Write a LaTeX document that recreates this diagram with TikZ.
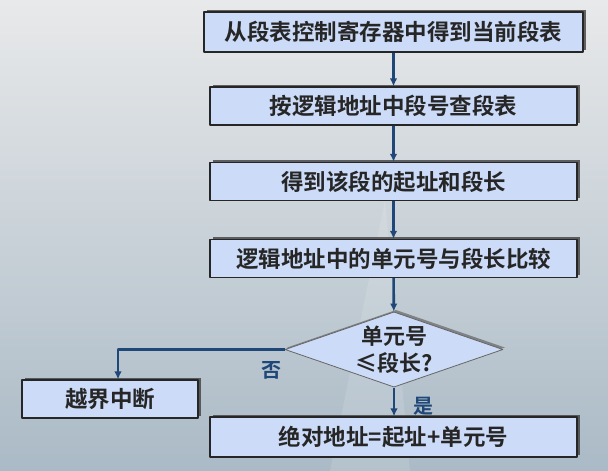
\documentclass[tikz,border=0pt]{standalone}
\usepackage{fontspec}
\setmainfont{Noto Sans CJK SC}[BoldFont={Noto Sans CJK SC Bold}]
\usetikzlibrary{arrows.meta, shadows, shapes.geometric, positioning}
\definecolor{boxblue}{HTML}{CCDBF7}
\definecolor{linkblue}{HTML}{1F4878}
\definecolor{textgray}{HTML}{262626}
\definecolor{bgtop}{HTML}{E8E9EA}
\definecolor{bgbottom}{HTML}{AABAC6}

\tikzset{
  stepbox/.style={draw=black!85, line width=1.2pt, fill=boxblue, minimum height=38pt,
    font=\fontsize{22.5}{26}\selectfont\bfseries, text=textgray,
    drop shadow={shadow xshift=2.5pt, shadow yshift=2.5pt, fill=black!75, opacity=0.8}},
  testbox/.style={diamond, draw=black!60, line width=0.8pt, fill=boxblue, aspect=2.8,
    minimum width=218pt, inner sep=0pt, align=center,
    font=\fontsize{22}{27}\selectfont\bfseries, text=textgray,
    drop shadow={shadow xshift=2pt, shadow yshift=2pt, fill=black!60, opacity=0.7}},
  link/.style={draw=linkblue, line width=2.6pt, -{Latex[length=8pt, width=7.5pt]}},
  answer/.style={font=\fontsize{20}{22}\selectfont\bfseries, text=linkblue}
}

\begin{document}
\begin{tikzpicture}[x=1pt, y=-1pt, line join=round]
  % Hintergrund
  \useasboundingbox (0,0) rectangle (608,471);
  \shade[top color=bgtop, bottom color=bgbottom] (0,0) rectangle (608,471);
  \fill[white, opacity=0.12] (330,471) -- (385,200) -- (410,471) -- cycle;

  % Schritte
  \node[stepbox, minimum width=379pt, minimum height=40pt] (table) at (393.5,32) {从段表控制寄存器中得到当前段表};
  \node[stepbox, minimum width=367pt] (lookup) at (393.5,106) {按逻辑地址中段号查段表};
  \node[stepbox, minimum width=367pt] (base) at (393.5,181.5) {得到该段的起址和段长};
  \node[stepbox, minimum width=367pt] (compare) at (393.5,258.5) {逻辑地址中的单元号与段长比较};
  \node[testbox] (check) at (394,349.5) {单元号\\≤段长?};
  \node[stepbox, minimum width=176pt] (fault) at (110,399) {越界中断};
  \node[stepbox, minimum width=367pt, minimum height=40pt] (address) at (393.5,437) {绝对地址=起址+单元号};

  % Verbindungen
  \draw[link] (table) -- (lookup);
  \draw[link] (lookup) -- (base);
  \draw[link] (base) -- (compare);
  \draw[link] (compare) -- (check);
  \draw[link] (check.south) -- (check.south |- address.north);
  \draw[link] (check.west) -| ([xshift=8pt]fault.north);

  % Beschriftungen
  \node[answer] (no) at (271,370) {否};
  \node[answer] (yes) at (423,406) {是};
\end{tikzpicture}
\end{document}
